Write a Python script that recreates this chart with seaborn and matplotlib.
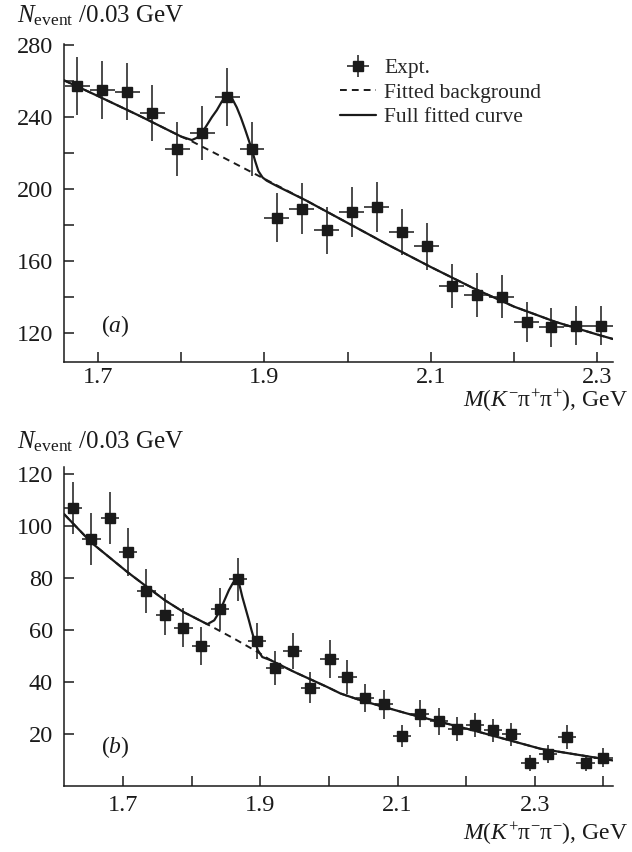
import numpy as np
import pandas as pd
import matplotlib
matplotlib.use("Agg")
import matplotlib.pyplot as plt
import seaborn as sns
from matplotlib.lines import Line2D

# ---------------- data: panel (a) ----------------
top_x = [1.675, 1.705, 1.735, 1.765, 1.795, 1.825, 1.855, 1.885, 1.915, 1.945, 1.975,
         2.005, 2.035, 2.065, 2.095, 2.125, 2.155, 2.185, 2.215, 2.245, 2.275, 2.305]
top_y = [257, 255, 254, 242, 222, 231, 251, 222, 184, 189, 177,
         187, 190, 176, 168, 146, 141, 140, 126, 123, 124, 124]
top_err = [16, 16, 16, 15.5, 15, 15, 16, 15, 13.5, 14, 13,
           14, 14, 13, 13, 12, 12, 12, 11, 11, 11, 11]

top_bg_x = [1.658, 1.70, 1.75, 1.80, 1.8126, 1.85, 1.90, 1.95, 2.00, 2.05, 2.10,
            2.15, 2.20, 2.25, 2.30, 2.319]
top_bg_y = [260.5, 251.5, 240.5, 229, 226.4, 217.5, 205.5, 193.5, 181, 168.5, 156.5,
            145, 134.5, 126, 119, 116.5]

top_fit_x = [1.658, 1.70, 1.75, 1.80, 1.8126, 1.8186, 1.8246, 1.8306, 1.8367, 1.8427,
             1.8487, 1.8547, 1.8607, 1.8667, 1.8717, 1.8767, 1.8807, 1.8847, 1.8887,
             1.8927, 1.8977, 1.9027, 1.915, 1.95, 2.00, 2.05, 2.10, 2.15, 2.20, 2.25,
             2.30, 2.319]
top_fit_y = [260.5, 251.5, 240.5, 229, 227.1, 228.3, 231, 235.3, 239.8, 243.7,
             248.5, 252, 250.5, 245.2, 239.5, 233, 227.5, 221.9, 215.5,
             209.8, 206.3, 204.5, 201.5, 193.5, 181, 168.5, 156.5, 145, 134.5, 126,
             119, 116.5]

# ---------------- data: panel (b) ----------------
bot_x = [1.627, 1.654, 1.681, 1.707, 1.734, 1.761, 1.788, 1.814, 1.841, 1.868,
         1.895, 1.921, 1.947, 1.973, 2.001, 2.027, 2.053, 2.080, 2.107, 2.133,
         2.160, 2.187, 2.213, 2.239, 2.266, 2.293, 2.319, 2.347, 2.374, 2.400]
bot_y = [107, 95, 103, 90, 75, 66, 61, 54, 68, 79.5,
         56, 45.5, 52, 38, 49, 42, 34, 31.5, 19.5, 28,
         25, 22, 23.5, 21.5, 20, 9, 12.5, 19, 9, 11]
bot_err = [10, 9.9, 10, 9.1, 8.5, 8, 7.6, 7.3, 8.1, 8.3,
           6.9, 6.7, 7, 5.8, 7.2, 6.4, 5.3, 5.4, 4.2, 5.3,
           5.3, 4.6, 4.6, 4.5, 4.4, 3.1, 3.4, 4.5, 2.9, 3.7]

bot_bg_x = [1.614, 1.654, 1.706, 1.7345, 1.761, 1.788, 1.8228, 1.8616, 1.8956, 1.915,
            1.9493, 1.9975, 2.0169, 2.046, 2.1141, 2.211, 2.308, 2.4138]
bot_bg_y = [104.6, 93.6, 82.4, 76.7, 71.5, 67.0, 62.3, 56.8, 51.7, 48.5,
            44.0, 38.2, 35.7, 33.1, 28.0, 21.5, 14.5, 10.0]

bot_fit_x = [1.614, 1.654, 1.706, 1.7345, 1.761, 1.788, 1.8228, 1.8329, 1.8412, 1.8478,
             1.8543, 1.8605, 1.8665, 1.8700, 1.8738, 1.8786, 1.8834, 1.8870, 1.8907,
             1.8965, 1.9029, 1.915, 1.9493, 1.9975, 2.0169, 2.046, 2.1141, 2.211,
             2.308, 2.4138]
bot_fit_y = [104.6, 93.6, 82.4, 76.7, 71.5, 67.0, 62.3, 63.8, 67.4, 71.5,
             75.4, 78.3, 79.5, 77, 72.8, 68.3, 63.8, 60.2, 56.8,
             52.3, 49.7, 48.5, 44.0, 38.2, 35.7, 33.1, 28.0, 21.5,
             14.5, 10.0]

top_xticks = [1.7, 1.9, 2.1, 2.3]
top_xminor = [1.8, 2.0, 2.2]
top_yticks = [120, 160, 200, 240, 280]
top_yminor = [140, 180, 220, 260]
bot_xticks = [1.7, 1.9, 2.1, 2.3]
bot_xminor = [1.8, 2.0, 2.2, 2.4]
bot_yticks = [20, 40, 60, 80, 100, 120]

legend_labels = ["Expt.", "Fitted background", "Full fitted curve"]
ylabel_text = r"$N_{\mathrm{event}}$ /0.03 GeV"
xlabel_top = r"$M(K^{-}\mathrm{\pi}^{+}\mathrm{\pi}^{+})$, GeV"
xlabel_bot = r"$M(K^{+}\mathrm{\pi}^{-}\mathrm{\pi}^{-})$, GeV"

# ---------------- style ----------------
sns.set_theme(style="ticks")
plt.rcParams.update({
    "font.family": ["Liberation Serif", "DejaVu Serif"],
    "mathtext.fontset": "custom",
    "mathtext.rm": "Liberation Serif",
    "mathtext.it": "Liberation Serif:italic",
    "mathtext.bf": "Liberation Serif:bold",
    "axes.linewidth": 1.1,
    "axes.edgecolor": "#1a1a1a",
    "xtick.direction": "in",
    "ytick.direction": "in",
    "xtick.color": "#1a1a1a",
    "ytick.color": "#1a1a1a",
})

INK = "#1a1a1a"
FS_TICK = 17.5
FS_LAB = 17
FS_YLAB = 18

fig = plt.figure(figsize=(6.32, 8.52), dpi=100)
ax1 = fig.add_axes([0.1013, 0.5757, 0.8687, 0.3727])
ax2 = fig.add_axes([0.1013, 0.0769, 0.8687, 0.3754])


def draw_panel(ax, x, y, err, xerr, bgx, bgy, fx, fy):
    sns.lineplot(x=bgx, y=bgy, ax=ax, color=INK, linewidth=1.4,
                 estimator=None, sort=False, dashes=False, linestyle=(0, (3.5, 2.6)))
    sns.lineplot(x=fx, y=fy, ax=ax, color=INK, linewidth=1.6,
                 estimator=None, sort=False)
    eb = ax.errorbar(x, y, yerr=err, xerr=xerr, fmt="s", color=INK, ms=6.5,
                     elinewidth=1.1, capsize=0, zorder=5)
    return eb


eb = draw_panel(ax1, top_x, top_y, top_err, 0.015, top_bg_x, top_bg_y, top_fit_x, top_fit_y)
draw_panel(ax2, bot_x, bot_y, bot_err, 0.0133, bot_bg_x, bot_bg_y, bot_fit_x, bot_fit_y)

ax1.set_xlim(1.659, 2.319)
ax1.set_ylim(104, 280.5)
ax2.set_xlim(1.614, 2.414)
ax2.set_ylim(0, 122.8)

for ax in (ax1, ax2):
    sns.despine(ax=ax)
    ax.set_xlabel("")
    ax.set_ylabel("")
    ax.tick_params(which="both", length=7, width=1.1, labelsize=FS_TICK, colors=INK,
                   top=False, right=False)
    ax.tick_params(axis="y", pad=8)
ax1.tick_params(axis="x", pad=4)
ax2.tick_params(axis="x", pad=6)

ax1.set_xticks(top_xticks)
ax1.set_xticklabels([f"{v:.1f}" for v in top_xticks])
ax1.set_xticks(top_xminor, minor=True)
ax1.set_yticks(top_yticks)
ax1.set_yticklabels([str(v) for v in top_yticks])
ax1.set_yticks(top_yminor, minor=True)

ax2.set_xticks(bot_xticks)
ax2.set_xticklabels([f"{v:.1f}" for v in bot_xticks])
ax2.set_xticks(bot_xminor, minor=True)
ax2.set_yticks(bot_yticks)
ax2.set_yticklabels([str(v) for v in bot_yticks])

# legend
h_dash = Line2D([], [], color=INK, linewidth=1.4, linestyle=(0, (3.5, 2.6)))
h_full = Line2D([], [], color=INK, linewidth=1.6)
ax1.legend([eb, h_dash, h_full], legend_labels, loc="upper left",
           bbox_to_anchor=(0.503, 0.955), frameon=False, fontsize=15.5,
           handlelength=1.65, handletextpad=0.4, labelspacing=0.2,
           borderpad=0, borderaxespad=0)

# panel tags
ax1.text(0.093, 0.112, r"($a$)", transform=ax1.transAxes, fontsize=FS_LAB,
         ha="center", va="center", color=INK)
ax2.text(0.093, 0.124, r"($b$)", transform=ax2.transAxes, fontsize=FS_LAB,
         ha="center", va="center", color=INK)

# axis titles
fig.text(0.027, 0.974, ylabel_text, fontsize=FS_YLAB, ha="left", va="baseline", color=INK)
fig.text(0.027, 0.474, ylabel_text, fontsize=FS_YLAB, ha="left", va="baseline", color=INK)
fig.text(0.993, 0.522, xlabel_top, fontsize=FS_LAB, ha="right", va="baseline", color=INK)
fig.text(0.993, 0.014, xlabel_bot, fontsize=FS_LAB, ha="right", va="baseline", color=INK)

fig.savefig("out.png", dpi=100, facecolor="white")
